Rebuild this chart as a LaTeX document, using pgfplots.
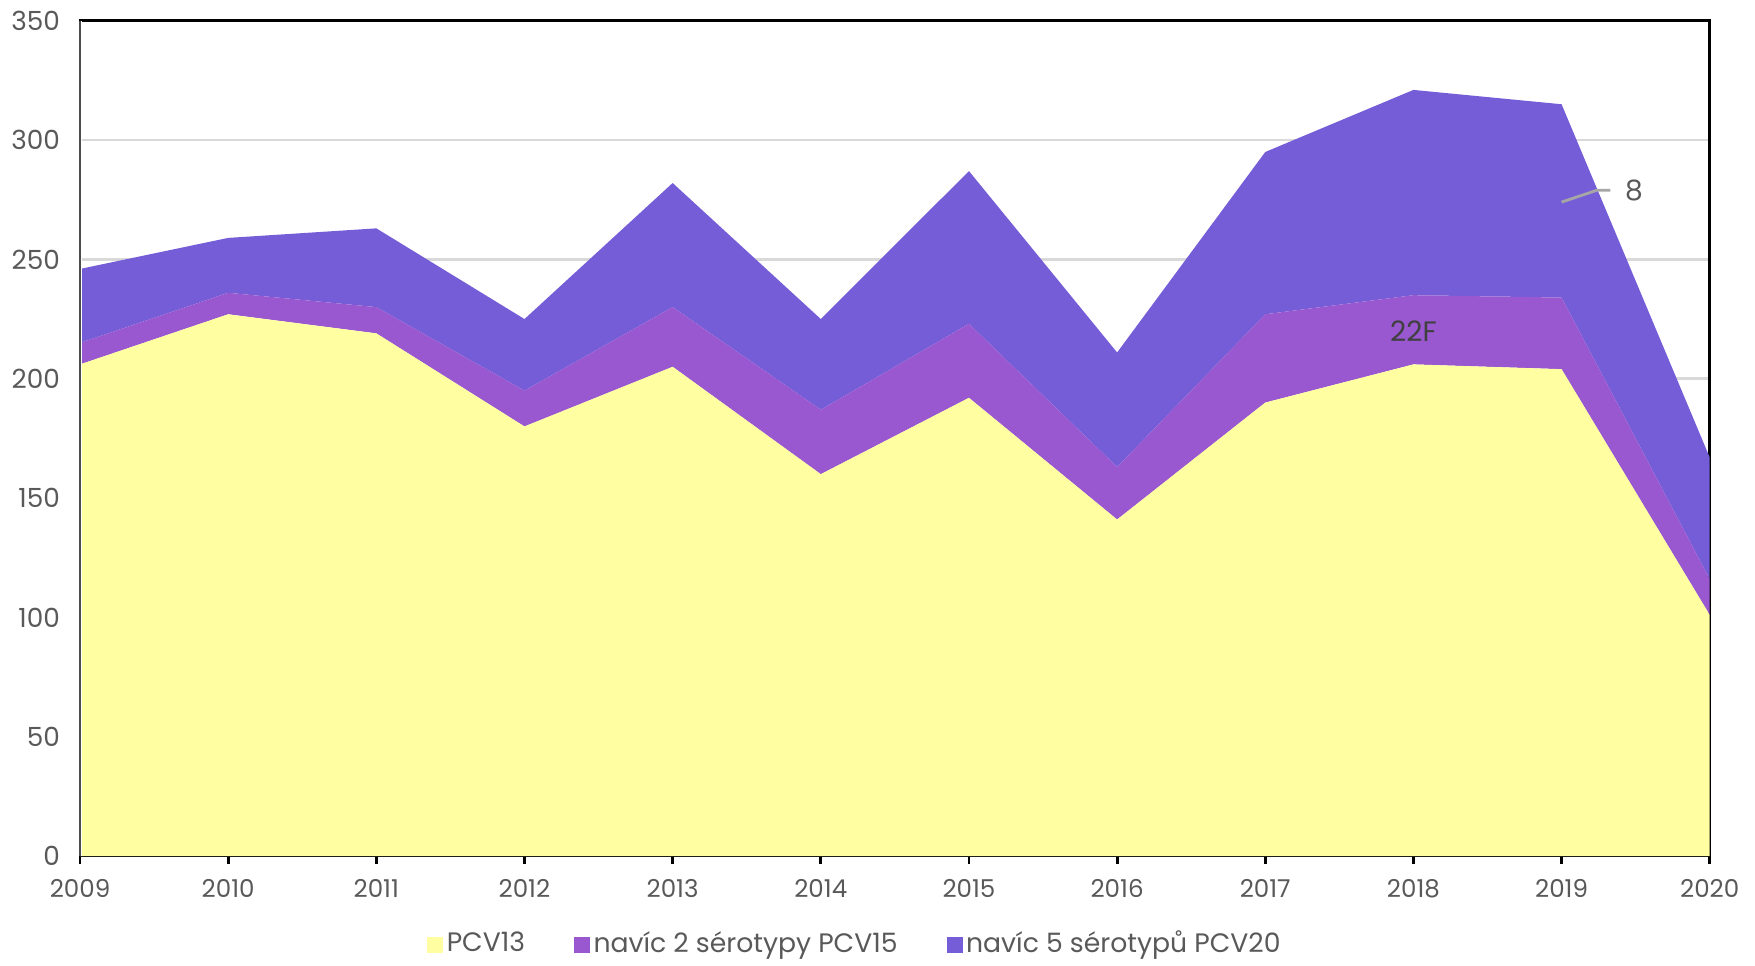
\documentclass[border=0pt]{standalone}
\usepackage{pgfplots}
\pgfplotsset{compat=1.18}
\usepackage{fontspec}
\setmainfont{Poppins}
\definecolor{cyel}{HTML}{FFFFA1}
\definecolor{cpur}{HTML}{9A58D0}
\definecolor{cblu}{HTML}{765DD8}
\definecolor{ctxt}{HTML}{595959}
\definecolor{cgrid}{HTML}{D9D9D9}
\begin{document}
\begin{tikzpicture}
\useasboundingbox (-22.8pt,-31.3pt) rectangle (477.2pt,243.9pt);
\begin{axis}[
  scale only axis, width=464.3pt, height=238.0pt,
  xmin=2009, xmax=2020, ymin=0, ymax=350,
  xtick={2009,2010,...,2020}, ytick={0,50,...,350},
  xtick pos=bottom,
  /pgf/number format/assume math mode=true,
  /pgf/number format/1000 sep={},
  stack plots=y,
  ymajorgrids, grid style={cgrid, line width=0.8pt},
  axis line style={black, line width=0.8pt},
  tick align=outside,
  major tick length=2.2pt,
  xtick style={black, line width=0.8pt},
  ytick style={draw=none},
  x tick label style={font=\fontsize{7}{8}\selectfont, text=ctxt, yshift=-1pt},
  y tick label style={font=\fontsize{7.5}{9}\selectfont, text=ctxt, xshift=0pt},
  legend columns=3,
  legend style={draw=none, fill=none, at={(0.476,-0.106)}, anchor=center,
    font=\fontsize{7.6}{9}\selectfont, text=ctxt,
    /tikz/every even column/.append style={column sep=13pt},
    nodes={inner sep=1pt}},
  legend image code/.code={\fill[#1] (0pt,-2.25pt) rectangle (4.5pt,2.25pt);},
]
\addplot[fill=cyel, draw=none] coordinates {
 (2009,206) (2010,227) (2011,219) (2012,180) (2013,205) (2014,160)
 (2015,192) (2016,141) (2017,190) (2018,206) (2019,204) (2020,101)} \closedcycle;
\addlegendentry{PCV13}
\addplot[fill=cpur, draw=none] coordinates {
 (2009,9) (2010,9) (2011,11) (2012,15) (2013,25) (2014,27)
 (2015,31) (2016,22) (2017,37) (2018,29) (2019,30) (2020,15)} \closedcycle;
\addlegendentry{navíc 2 sérotypy PCV15}
\addplot[fill=cblu, draw=none] coordinates {
 (2009,31) (2010,23) (2011,33) (2012,30) (2013,52) (2014,38)
 (2015,64) (2016,48) (2017,68) (2018,86) (2019,81) (2020,51)} \closedcycle;
\addlegendentry{navíc 5 sérotypů PCV20}
\coordinate (l1) at (axis cs:2019,274);
\coordinate (l2) at (axis cs:2019.24,279);
\coordinate (l3) at (axis cs:2019.33,279);
\coordinate (l4) at (axis cs:2019.4,279);
\coordinate (l5) at (axis cs:2018,220);
\coordinate (bl) at (axis cs:2009,0);
\coordinate (tl) at (axis cs:2009,350);
\end{axis}
\draw[white, line width=0.9pt] (bl) -- (tl);
\draw[black!70, line width=0.5pt] (bl) -- (tl);
\draw[black!35, line width=0.8pt] (l1) -- (l2) -- (l3);
\node[anchor=west, text=ctxt, font=\fontsize{8}{9}\selectfont, inner sep=1pt] at (l4) {8};
\node[text=black!75, font=\fontsize{8}{9}\selectfont] at (l5) {22F};
\end{tikzpicture}
\end{document}
